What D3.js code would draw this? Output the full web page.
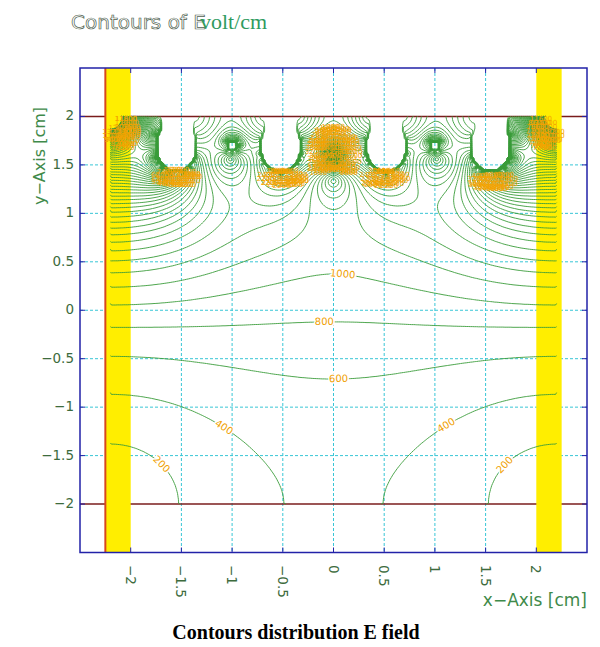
<!DOCTYPE html>
<html><head><meta charset="utf-8">
<script src="https://cdn.jsdelivr.net/npm/d3@7"></script>
<style>body{margin:0;background:#fff}svg{display:block}</style>
</head><body>
<svg id="chart" width="600" height="647"></svg>
<script>
// ---------- axes ----------
const xTicks = [-2, -1.5, -1, -0.5, 0, 0.5, 1, 1.5, 2];
const yTicks = [2, 1.5, 1, 0.5, 0, -0.5, -1, -1.5, -2];
const gridX = [-1.5, -1, -0.5, 0, 0.5, 1, 1.5];
const gridY = [1.5, 1, 0.5, 0, -0.5, -1, -1.5];
const planeY = [2, -2];                      // electrode planes
const sideBands = [[-2.25, -2.0], [2.0, 2.25]];
const sideLineX = [-2.25];

// ---------- chamber geometry (cm), potentials relative to the top plane ----------
const boxX = [-2.2, 2.2];                    // side walls (ground)
const boxY = [-2, 2];                        // bottom plane (ground) / top plane
const topV = 1;                              // top plane and its strips
const stripX = [-1.55, -0.52, 0.52, 1.55];   // strips hanging from the top plane
const stripBottom = 1.42;
const stripRx = 0.21, stripRy = 0.27, stripNeck = 0.17;
const wireX = [-1, 0, 1];                    // wires between the strips
const wireY = [1.7, 1.6, 1.7];
const wireV = [0.85, 0.55, 0.85];
const wireR = [0.06, 0.04, 0.06];

// ---------- contour levels (V/cm) ----------
const levelMin = 200, levelMax = 16000, levelStep = 200;
const refLevel = 800, refX = 0, refY = -0.12;   // labelled 800 V/cm line on the axis

// labelled contours
const labelLevels = [1000, 800, 600, 400, 400, 200, 200];
const labelAtX = [0.08, -0.08, 0.05, -1.05, 1.1, -1.72, 1.72];
const labelAtY = [0.31, -0.13, -0.71, -1.17, -1.17, -1.6, -1.62];

// crowded label zones around the electrodes [x, y, rx, ry]
const crowdZones = [
  [-2.08, 1.82, 0.1, 0.16],
  [-1.55, 1.36, 0.18, 0.09],
  [-0.5, 1.36, 0.18, 0.09],
  [0, 1.6, 0.2, 0.3],
  [0.5, 1.36, 0.18, 0.09],
  [1.57, 1.33, 0.18, 0.09],
  [2.08, 1.82, 0.1, 0.16]
];
const crowdMinLevel = 1600;

// ---------- scales ----------
const svg = d3.select('#chart');
const x = d3.scaleLinear().domain([-2.5, 2.5]).range([80, 587]);
const y = d3.scaleLinear().domain([-2.5, 2.5]).range([552.5, 68]);

// ---------- potential: SOR relaxation ----------
const h = 0.02;
const nx = Math.round((boxX[1] - boxX[0]) / h) + 1;
const ny = Math.round((boxY[1] - boxY[0]) / h) + 1;
const V = new Float64Array(nx * ny);
const fixed = new Uint8Array(nx * ny);

function inStrip(px, py) {
  const yc = stripBottom + stripRy;
  for (const xc of stripX) {
    const dx = px - xc;
    if (py >= yc && Math.abs(dx) <= stripNeck) return true;
    if ((dx / stripRx) ** 2 + ((py - yc) / stripRy) ** 2 <= 1) return true;
  }
  return false;
}
for (let j = 0; j < ny; j++) {
  for (let i = 0; i < nx; i++) {
    const k = j * nx + i;
    const px = boxX[0] + i * h, py = boxY[0] + j * h;
    V[k] = topV * j / (ny - 1);
    if (i === 0 || i === nx - 1 || j === 0) { fixed[k] = 1; V[k] = 0; }
    else if (j === ny - 1 || inStrip(px, py)) { fixed[k] = 1; V[k] = topV; }
    for (let w = 0; w < wireX.length; w++) {
      if (Math.hypot(px - wireX[w], py - wireY[w]) <= wireR[w]) { fixed[k] = 1; V[k] = wireV[w]; }
    }
  }
}
const omega = 1.96;
for (let it = 0; it < 2200; it++) {
  for (let j = 1; j < ny - 1; j++) {
    let k = j * nx + 1;
    for (let i = 1; i < nx - 1; i++, k++) {
      if (fixed[k]) continue;
      V[k] += omega * (0.25 * (V[k - 1] + V[k + 1] + V[k - nx] + V[k + nx]) - V[k]);
    }
  }
}

// ---------- |E| on cell centres ----------
const cw = nx - 1, ch = ny - 1;
const E = new Float64Array(cw * ch);
for (let j = 0; j < ch; j++) {
  for (let i = 0; i < cw; i++) {
    const k = j * nx + i;
    const inner = fixed[k] && fixed[k + 1] && fixed[k + nx] && fixed[k + nx + 1] &&
      i > 0 && j > 0 && i < cw - 1 && j < ch - 1;
    if (inner) { E[j * cw + i] = 0; continue; }
    const ex = (V[k + 1] - V[k] + V[k + nx + 1] - V[k + nx]) / (2 * h);
    const ey = (V[k + nx] - V[k] + V[k + nx + 1] - V[k + 1]) / (2 * h);
    E[j * cw + i] = Math.hypot(ex, ey);
  }
}
function sampleE(px, py) {
  const gx = (px - boxX[0]) / h - 0.5, gy = (py - boxY[0]) / h - 0.5;
  const i = Math.floor(gx), j = Math.floor(gy), fx = gx - i, fy = gy - j;
  const a = E[j * cw + i], b = E[j * cw + i + 1], c = E[(j + 1) * cw + i], d = E[(j + 1) * cw + i + 1];
  return (a * (1 - fx) + b * fx) * (1 - fy) + (c * (1 - fx) + d * fx) * fy;
}
const scaleE = refLevel / sampleE(refX, refY);
for (let k = 0; k < E.length; k++) E[k] *= scaleE;

const levels = d3.range(levelMin, levelMax + 1, levelStep);
const contours = d3.contours().size([cw, ch]).thresholds(levels)(Array.from(E));

const toData = p => [boxX[0] + p[0] * h, boxY[0] + p[1] * h];
const onBorder = p => p[0] <= 0 || p[0] >= cw || p[1] <= 0 || p[1] >= ch;
const px = p => x(toData(p)[0]);
const py = p => y(toData(p)[1]);

// ---------- frame background pieces ----------
const fr = { l: x(-2.5), r: x(2.5), t: y(2.5), b: y(-2.5) };

svg.append('g').selectAll('line').data(gridX).join('line')
  .attr('x1', d => x(d)).attr('x2', d => x(d)).attr('y1', fr.t).attr('y2', fr.b)
  .attr('stroke', '#38c6d6').attr('stroke-width', 1).attr('stroke-dasharray', '3,2');
svg.append('g').selectAll('line').data(gridY).join('line')
  .attr('y1', d => y(d)).attr('y2', d => y(d)).attr('x1', fr.l).attr('x2', fr.r)
  .attr('stroke', '#38c6d6').attr('stroke-width', 1).attr('stroke-dasharray', '3,2');

svg.append('g').selectAll('line').data(planeY).join('line')
  .attr('y1', d => y(d)).attr('y2', d => y(d)).attr('x1', fr.l).attr('x2', fr.r)
  .attr('stroke', '#7a1c1c').attr('stroke-width', 1.5);

svg.append('g').selectAll('rect').data(sideBands).join('rect')
  .attr('x', d => x(d[0])).attr('width', d => x(d[1]) - x(d[0]))
  .attr('y', fr.t).attr('height', fr.b - fr.t).attr('fill', '#ffee00');

svg.append('g').selectAll('line').data(sideLineX).join('line')
  .attr('x1', d => x(d)).attr('x2', d => x(d)).attr('y1', fr.t).attr('y2', fr.b)
  .attr('stroke', '#d8481c').attr('stroke-width', 2);

// ---------- contour lines ----------
function ringPath(c) {
  let d = '';
  for (const poly of c.coordinates) for (const ring of poly) {
    let pen = false;
    for (let t = 1; t < ring.length; t++) {
      const q = ring[t - 1], p = ring[t];
      if (onBorder(p) && onBorder(q)) { pen = false; continue; }
      if (!pen) d += 'M' + px(q).toFixed(1) + ',' + py(q).toFixed(1);
      d += 'L' + px(p).toFixed(1) + ',' + py(p).toFixed(1);
      pen = true;
    }
  }
  return d;
}
svg.append('g').attr('fill', 'none').attr('stroke', '#3a9c3a').attr('stroke-width', 0.9)
  .selectAll('path').data(contours.filter(c => c.coordinates.length)).join('path')
  .attr('d', ringPath);

// ---------- crowded labels near the electrodes ----------
const used = new Set();
const crowd = [];
contours.forEach(c => {
  if (c.value < crowdMinLevel) return;
  for (const poly of c.coordinates) for (const ring of poly) {
    for (let t = 0; t < ring.length; t += 1) {
      const p = ring[t];
      if (onBorder(p)) continue;
      const [dx, dy] = toData(p);
      const inZone = crowdZones.some(z => ((dx - z[0]) / z[2]) ** 2 + ((dy - z[1]) / z[3]) ** 2 <= 1);
      if (!inZone) continue;
      const sx = x(dx), sy = y(dy);
      const key = Math.floor(sx / 6) + ',' + Math.floor(sy / 4);
      if (used.has(key)) continue;
      used.add(key);
      crowd.push({ sx, sy, v: c.value });
    }
  }
});
svg.append('g').attr('font-family', 'DejaVu Sans, sans-serif').attr('font-size', 7)
  .attr('fill', '#f4a300')
  .selectAll('text').data(crowd).join('text')
  .attr('x', d => d.sx).attr('y', d => d.sy).attr('text-anchor', 'middle')
  .attr('dominant-baseline', 'middle').text(d => d.v);

// ---------- value labels on the open contours ----------
const lab = labelLevels.map((lv, idx) => {
  const c = contours.find(cc => cc.value === lv);
  let best = null, bd = Infinity;
  for (const poly of c.coordinates) for (const ring of poly) {
    for (let t = 1; t < ring.length - 1; t++) {
      const p = ring[t];
      if (onBorder(p)) continue;
      const [dx, dy] = toData(p);
      const dist = (dx - labelAtX[idx]) ** 2 + (dy - labelAtY[idx]) ** 2;
      if (dist < bd) { bd = dist; best = { ring, t }; }
    }
  }
  const a = best.ring[best.t - 1], b = best.ring[best.t + 1], p = best.ring[best.t];
  let ang = Math.atan2(py(b) - py(a), px(b) - px(a)) * 180 / Math.PI;
  if (ang > 90) ang -= 180;
  if (ang < -90) ang += 180;
  return { sx: px(p), sy: py(p), ang, v: lv };
});
svg.append('g').attr('font-family', 'DejaVu Sans, sans-serif').attr('font-size', 10)
  .selectAll('text').data(lab).join('text')
  .attr('transform', d => `translate(${d.sx},${d.sy}) rotate(${d.ang})`)
  .attr('text-anchor', 'middle').attr('dominant-baseline', 'middle')
  .attr('fill', '#f0a000').attr('stroke', '#ffffff').attr('stroke-width', 3)
  .attr('paint-order', 'stroke').text(d => d.v);

// ---------- frame, ticks, labels ----------
svg.append('rect').attr('x', fr.l).attr('y', fr.t).attr('width', fr.r - fr.l).attr('height', fr.b - fr.t)
  .attr('fill', 'none').attr('stroke', '#2222a8').attr('stroke-width', 1.5);
const tk = svg.append('g').attr('stroke', '#2222a8').attr('stroke-width', 1);
xTicks.forEach(v => {
  tk.append('line').attr('x1', x(v)).attr('x2', x(v)).attr('y1', fr.t).attr('y2', fr.t + 5);
  tk.append('line').attr('x1', x(v)).attr('x2', x(v)).attr('y1', fr.b).attr('y2', fr.b - 5);
});
yTicks.forEach(v => {
  tk.append('line').attr('y1', y(v)).attr('y2', y(v)).attr('x1', fr.l).attr('x2', fr.l + 5);
  tk.append('line').attr('y1', y(v)).attr('y2', y(v)).attr('x1', fr.r).attr('x2', fr.r - 5);
});

const fmt = v => (v < 0 ? '\u2212' : '') + Math.abs(v);
svg.append('g').attr('font-family', 'DejaVu Sans, sans-serif').attr('font-size', 13.5).attr('fill', '#3d6b3d')
  .selectAll('text').data(yTicks).join('text')
  .attr('x', 74).attr('y', d => y(d)).attr('text-anchor', 'end').attr('dominant-baseline', 'middle')
  .text(fmt);
svg.append('g').attr('font-family', 'DejaVu Sans, sans-serif').attr('font-size', 13.5).attr('fill', '#3d6b3d')
  .selectAll('text').data(xTicks).join('text')
  .attr('transform', d => `translate(${x(d) - 1},565) rotate(90)`)
  .attr('text-anchor', 'start').attr('dominant-baseline', 'middle')
  .text(fmt);

svg.append('text').attr('x', 587).attr('y', 606).attr('text-anchor', 'end')
  .attr('font-family', 'DejaVu Sans, sans-serif').attr('font-size', 17).attr('fill', '#3f8a4a')
  .text('x\u2212Axis [cm]');
svg.append('text').attr('transform', 'translate(45,205) rotate(-90)').attr('text-anchor', 'start')
  .attr('font-family', 'DejaVu Sans, sans-serif').attr('font-size', 16).attr('fill', '#3f8a4a')
  .text('y\u2212Axis [cm]');

// title
svg.append('text').attr('x', 71).attr('y', 29)
  .attr('font-family', 'DejaVu Sans, sans-serif').attr('font-size', 20)
  .attr('fill', 'none').attr('stroke', '#4f5f4f').attr('stroke-width', 0.7)
  .text('Contours of E');
svg.append('text').attr('x', 200).attr('y', 29)
  .attr('font-family', 'Liberation Serif, serif').attr('font-size', 22).attr('fill', '#2f9b5f')
  .text('volt/cm');

// caption
svg.append('text').attr('x', 296).attr('y', 639).attr('text-anchor', 'middle')
  .attr('font-family', 'Liberation Serif, serif').attr('font-weight', 'bold').attr('font-size', 20)
  .attr('fill', '#000').text('Contours distribution E field');
</script>
</body></html>
